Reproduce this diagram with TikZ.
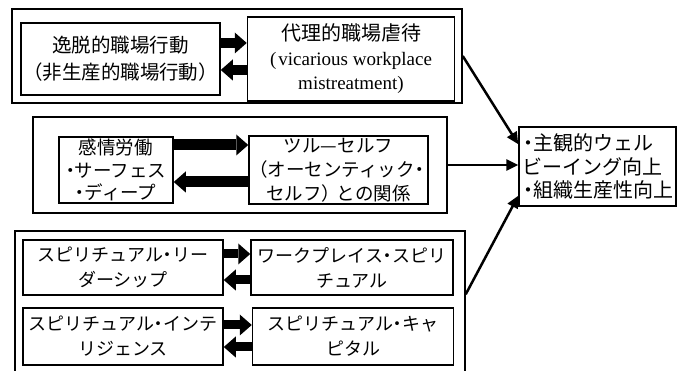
\documentclass[tikz,border=0pt]{standalone}
\usepackage{fontspec}
\setmainfont{Liberation Serif}
\newfontfamily\jp{Noto Sans CJK JP}
\usetikzlibrary{arrows.meta,calc}
\newcommand\nd{\kern-0.25em・\kern-0.25em}
\newcommand\lp{\kern-0.2em（}
\newcommand\rp{）\kern-0.2em}
\begin{document}
\begin{tikzpicture}[x=1pt,y=-1pt,
  outerbox/.style={draw,line width=1.5pt,inner sep=0pt},
  bx/.style={draw,line width=1.5pt,inner sep=0pt,align=center},
  conn/.style={line width=2.5pt,-{Triangle[length=12pt,width=11pt]}},
  fat/.style={line width=#1,-{Triangle[length=12pt,width=21pt,line width=0pt]}},
  fat/.default=10pt]
\useasboundingbox (0,0) rectangle (678,371);
% group 1
\node[outerbox,minimum width=450pt,minimum height=94pt] (o1) at (237,56) {};
\node[bx,minimum width=199pt,minimum height=72pt,font=\jp\fontsize{19.5}{27}\selectfont] (a1) at (120.5,59)
  {逸脱的職場行動\\\lp 非生産的職場行動\rp};
\node[bx,minimum width=207pt,minimum height=84pt,font=\fontsize{19}{24.5}\selectfont] (b1) at (351,59)
  {{\jp\fontsize{20}{24.5}\selectfont 代理的職場虐待}\\(\kern2pt vicarious workplace\\mistreatment)};
\draw[fat] ([yshift=16pt]a1.east) -- ([yshift=16pt]b1.west);
\draw[fat] ([yshift=-11pt]b1.west) -- ([yshift=-11pt]a1.east);
% group 2
\node[outerbox,minimum width=414pt,minimum height=96pt] (o2) at (240,165) {};
\node[bx,minimum width=114pt,minimum height=66pt,font=\jp\fontsize{18.5}{22.5}\selectfont] (a2) at (116,170)
  {感情労働\\\nd サーフェス\\\nd ディープ};
\node[bx,minimum width=179pt,minimum height=68pt,font=\jp\fontsize{18.5}{24}\selectfont] (b2) at (338.5,170)
  {ツル—セルフ\\\lp オーセンティック\nd\\セルフ\rp との関係};
\draw[fat=11pt] ([yshift=25pt]a2.east) -- ([yshift=25pt]b2.west);
\draw[fat=11pt] ([yshift=-12pt]b2.west) -- ([yshift=-12pt]a2.east);
% group 3
\node[outerbox,minimum width=450pt,minimum height=154pt] (o3) at (240,308) {};
\node[bx,minimum width=200pt,minimum height=55pt,font=\jp\fontsize{18}{25}\selectfont] (a3) at (123,267.5)
  {スピリチュアル\nd リー\\ダーシップ};
\node[bx,minimum width=202pt,minimum height=55pt,font=\jp\fontsize{18}{25}\selectfont] (b3) at (352,267.5)
  {ワークプレイス\nd スピリ\\チュアル};
\node[bx,minimum width=200pt,minimum height=57pt,font=\jp\fontsize{18}{25}\selectfont] (c3) at (123,336.5)
  {スピリチュアル\nd インテ\\リジェンス};
\node[bx,minimum width=201pt,minimum height=57pt,font=\jp\fontsize{18}{25}\selectfont] (d3) at (353,336.5)
  {スピリチュアル\nd キャ\\ピタル};
\draw[fat=9pt] ([yshift=13.5pt]a3.east) -- ([yshift=13.5pt]b3.west);
\draw[fat=9pt] ([yshift=-12.5pt]b3.west) -- ([yshift=-12.5pt]a3.east);
\draw[fat=9pt] ([yshift=11.5pt]c3.east) -- ([yshift=11.5pt]d3.west);
\draw[fat=9pt] ([yshift=-10.5pt]d3.west) -- ([yshift=-10.5pt]c3.east);
% result
\node[bx,minimum width=157pt,minimum height=79pt,align=left,inner sep=2pt,font=\jp\fontsize{20}{23.5}\selectfont] (r) at (597.5,166.5)
  {\kern-0.2em・\kern-0.25em 主観的ウェル\\ビーイング向上\\\kern-0.2em・\kern-0.25em 組織生産性向上};
\draw[conn] (o1.east) -- ($(r.north west)+(0,18)$);
\draw[conn] (o2.east) -- (o2.east -| r.west);
\draw[conn] ($(o3.north east)+(0,64)$) -- ($(r.south west)+(0,-11)$);
\end{tikzpicture}
\end{document}
